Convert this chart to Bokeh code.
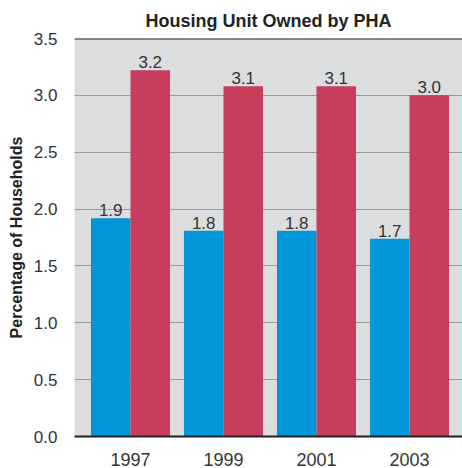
from bokeh.plotting import figure
from bokeh.models import ColumnDataSource, Span, FixedTicker, PrintfTickFormatter
from bokeh.core.properties import value
from bokeh.embed import file_html
from bokeh.resources import INLINE

years = ["1997", "1999", "2001", "2003"]
series_a = [1.92, 1.81, 1.81, 1.74]
series_b = [3.22, 3.08, 3.08, 3.00]
labels_a = ["1.9", "1.8", "1.8", "1.7"]
labels_b = ["3.2", "3.1", "3.1", "3.0"]
y_ticks = [0.0, 0.5, 1.0, 1.5, 2.0, 2.5, 3.0, 3.5]

FONT = "Liberation Sans"
BLUE = "#0096d8"
RED = "#c73e5d"

idx = list(range(len(years)))
bw = 0.425
src_a = ColumnDataSource(dict(x=[i - bw / 2 for i in idx], top=series_a, lab=labels_a))
src_b = ColumnDataSource(dict(x=[i + bw / 2 for i in idx], top=series_b, lab=labels_b))

p = figure(width=462, height=468, output_backend="svg", toolbar_location=None,
           x_range=(-0.602, 3.57), y_range=(0, 3.5),
           title="Housing Unit Owned by PHA")
p.min_border_left = 74
p.min_border_right = 0
p.min_border_top = 38
p.min_border_bottom = 31

p.title.align = "center"
p.title.text_font = FONT
p.title.text_font_size = "18px"
p.title.text_font_style = "bold"
p.title.text_color = "#222222"
p.title.standoff = 16

p.background_fill_color = "#dcdddf"
p.border_fill_color = "white"
p.outline_line_color = None

p.vbar(x="x", top="top", width=bw, source=src_a, color=BLUE, line_color=None)
p.vbar(x="x", top="top", width=bw, source=src_b, color=RED, line_color=None)

p.text(x="x", y="top", text="lab", source=src_a, text_align="center",
       text_baseline="bottom", y_offset=-2, text_font=value(FONT),
       text_font_size="17px", text_color="#333333")
p.text(x="x", y="top", text="lab", source=src_b, text_align="center",
       text_baseline="bottom", y_offset=-2, text_font=value(FONT),
       text_font_size="17px", text_color="#333333")

p.add_layout(Span(location=3.5, dimension="width", line_color="#222222", line_width=2))

p.xgrid.grid_line_color = None
p.ygrid.ticker = FixedTicker(ticks=y_ticks)
p.ygrid.grid_line_color = "#999999"
p.ygrid.grid_line_width = 1

p.xaxis.ticker = FixedTicker(ticks=idx)
p.xaxis.major_label_overrides = {i: y for i, y in enumerate(years)}
p.xaxis.axis_line_color = "#222222"
p.xaxis.axis_line_width = 2
p.xaxis.major_tick_line_color = None
p.xaxis.minor_tick_line_color = None
p.xaxis.major_label_text_font = FONT
p.xaxis.major_label_text_font_size = "18px"
p.xaxis.major_label_text_color = "#333333"
p.xaxis.major_label_standoff = 10

p.yaxis.ticker = FixedTicker(ticks=y_ticks)
p.yaxis.formatter = PrintfTickFormatter(format="%.1f")
p.yaxis.axis_line_color = None
p.yaxis.major_tick_line_color = None
p.yaxis.minor_tick_line_color = None
p.yaxis.major_label_text_font = FONT
p.yaxis.major_label_text_font_size = "17px"
p.yaxis.major_label_text_color = "#333333"
p.yaxis.major_label_standoff = 11
p.yaxis.axis_label = "Percentage of Households"
p.yaxis.axis_label_text_font = FONT
p.yaxis.axis_label_text_font_size = "16px"
p.yaxis.axis_label_text_font_style = "bold"
p.yaxis.axis_label_text_color = "#222222"
p.yaxis.axis_label_standoff = 6

open("out.html", "w").write(file_html(p, INLINE))
